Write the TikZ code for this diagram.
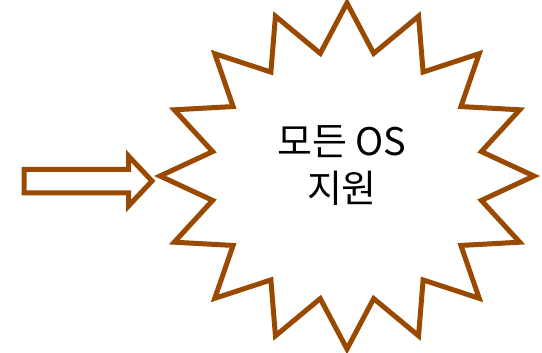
\documentclass[tikz,border=0pt]{standalone}
\usepackage{fontspec}
\newfontfamily\krfont{Noto Sans CJK KR}
\usepackage{tikz}
\usetikzlibrary{calc}
\definecolor{burstbrown}{RGB}{153,74,0}
\tikzset{
  outline/.style={draw=burstbrown,line width=5pt,fill=white,line join=miter},
  bursttext/.style={font=\krfont\fontsize{38}{47}\selectfont,align=center,text=black}
}

\begin{document}
\begin{tikzpicture}[x=1pt,y=-1pt]
  \useasboundingbox (0,0) rectangle (542,353);
  % block arrow pointing at the burst
  \coordinate (A1) at (24,169.5);
  \coordinate (A2) at (128.5,169.5);
  \coordinate (A3) at (128.5,156);
  \coordinate (A4) at (152,181);
  \coordinate (A5) at (128.5,206);
  \coordinate (A6) at (128.5,193);
  \coordinate (A7) at (24,193);
  \draw[outline] (A1) -- (A2) -- (A3) -- (A4) -- (A5) -- (A6) -- (A7) -- cycle;
  % 16-point starburst (outer and inner ellipse)
  \coordinate (C) at (347,176);
  \draw[outline] ($(C)+(0:187 and 173)$)
    \foreach \k in {1,...,15} { -- ($(C)+(\k*22.5-11.25:137 and 125)$) -- ($(C)+(\k*22.5:187 and 173)$) }
    -- ($(C)+(348.75:137 and 125)$) -- cycle;
  % label
  \node[bursttext] (label) at (342,166) {모든 OS\\지원};
\end{tikzpicture}
\end{document}
